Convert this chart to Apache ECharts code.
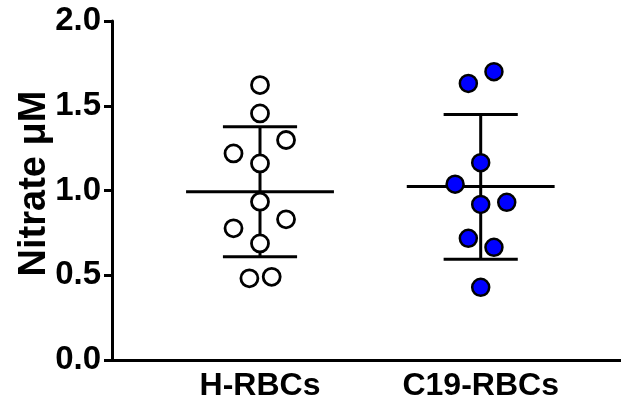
<!DOCTYPE html>
<html>
<head>
<meta charset="utf-8">
<script src="https://cdn.jsdelivr.net/npm/echarts@6/dist/echarts.min.js"></script>
<style>html,body{margin:0;padding:0;background:#fff}#c{width:621px;height:410px}</style>
</head>
<body>
<div id="c"></div>
<script>
// ---- data ----
const categories = ['H-RBCs', 'C19-RBCs'];
const yTicks = [0.0, 0.5, 1.0, 1.5, 2.0];
const hValues  = [1.622, 1.455, 1.298, 1.219, 1.160, 0.934, 0.830, 0.777, 0.688, 0.482, 0.491];
const hJitter  = [0, 0, 0.118, -0.12, 0, 0, 0.118, -0.12, 0, -0.048, 0.053];
const cValues  = [1.632, 1.701, 1.164, 1.037, 0.918, 0.930, 0.718, 0.665, 0.429];
const cJitter  = [-0.056, 0.06, 0, -0.116, 0, 0.118, -0.056, 0.06, 0];
const groupMean  = [0.993, 1.023];
const groupUpper = [1.376, 1.449];
const groupLower = [0.609, 0.594];

const FONT = 'Arial, "Liberation Sans", Helvetica, sans-serif';
const hData = hValues.map((v, i) => [1 + hJitter[i], v]);
const cData = cValues.map((v, i) => [2 + cJitter[i], v]);
const barData = categories.map((c, i) => [i + 1, groupMean[i], groupUpper[i], groupLower[i]]);

const chart = echarts.init(document.getElementById('c'), null, {renderer: 'canvas'});
chart.setOption({
  animation: false,
  backgroundColor: '#fff',
  grid: {left: 112, top: 21, right: 0, bottom: 50, containLabel: false},
  xAxis: {
    type: 'value', min: 0.3294, max: 2.6357,
    splitLine: {show: false},
    axisLine: {show: true, lineStyle: {color: '#000', width: 3}},
    axisTick: {show: false},
    axisLabel: {
      customValues: [1, 2],
      formatter: v => categories[Math.round(v) - 1] || '',
      color: '#000', fontFamily: FONT, fontWeight: 'bold', fontSize: 32, margin: 10
    }
  },
  yAxis: {
    type: 'value', min: 0, max: 2, interval: 0.5,
    name: 'Nitrate \u03bcM', nameLocation: 'middle', nameRotate: 90, nameGap: 58,
    nameMoveOverlap: false,
    nameTextStyle: {color: '#000', fontFamily: FONT, fontWeight: 'bold', fontSize: 38, padding: [0, 0, 0, 14]},
    splitLine: {show: false},
    axisLine: {show: true, lineStyle: {color: '#000', width: 3}},
    axisTick: {show: true, length: 8, lineStyle: {color: '#000', width: 3}},
    axisLabel: {
      formatter: v => v.toFixed(1),
      color: '#000', fontFamily: FONT, fontWeight: 'bold', fontSize: 33, margin: 11
    }
  },
  series: [
    {
      type: 'custom',
      data: barData,
      z: 1,
      renderItem: function (params, api) {
        const x = api.value(0), m = api.value(1), u = api.value(2), l = api.value(3);
        const mw = 0.335, sw = 0.168;
        const st = {stroke: '#000', lineWidth: 3};
        const p = (a, b) => api.coord([a, b]);
        const mk = (a, b) => ({type: 'line', shape: {x1: a[0], y1: a[1], x2: b[0], y2: b[1]}, style: st});
        return {type: 'group', children: [
          mk(p(x - mw, m), p(x + mw, m)),
          mk(p(x - sw, u), p(x + sw, u)),
          mk(p(x - sw, l), p(x + sw, l)),
          mk(p(x, u), p(x, l))
        ]};
      }
    },
    {
      type: 'scatter', data: hData, z: 3,
      symbol: 'circle', symbolSize: 17,
      itemStyle: {color: '#fff', borderColor: '#000', borderWidth: 2.8, opacity: 1}
    },
    {
      type: 'scatter', data: cData, z: 3,
      symbol: 'circle', symbolSize: 17,
      itemStyle: {color: '#0000ff', borderColor: '#000', borderWidth: 2.5, opacity: 1}
    }
  ]
});
</script>
</body>
</html>
